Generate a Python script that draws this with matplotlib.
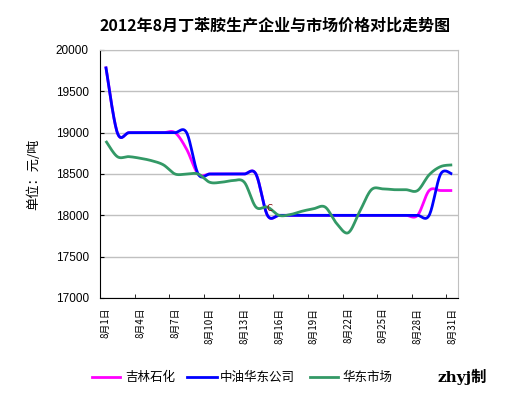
import matplotlib
matplotlib.use("Agg")
import matplotlib.pyplot as plt
from matplotlib.lines import Line2D
import numpy as np

plt.rcParams["font.family"] = ["Noto Sans CJK SC", "DejaVu Sans"]

days = list(range(1, 32))
jilin = [19800] + [19000] * 6 + [18800] + [18500] * 6 + [18000] * 14 + [18300] * 3
zhongyou = [19800] + [19000] * 7 + [18500] * 6 + [18000] * 15 + [18500] * 2
huadong = [18900, 18710, 18710, 18690, 18660, 18610, 18500, 18500, 18500, 18400,
           18400, 18420, 18400, 18100, 18100, 18000, 18010, 18050, 18080, 18100,
           17900, 17790, 18050, 18310, 18320, 18310, 18310, 18300, 18490, 18590,
           18610]

series_names = ["吉林石化", "中油华东公司", "华东市场"]
series_colors = ["#FF00FF", "#0000FF", "#339966"]
label_days = list(range(1, 32, 3))
tick_labels = [f"8月{d}日" for d in label_days]
title = "2012年8月丁苯胺生产企业与市场价格对比走势图"


def smooth(x, y, steps=20):
    """Excel-style smoothed line: cubic Bezier through each point."""
    x = np.asarray(x, float)
    y = np.asarray(y, float)
    n = len(x)
    px, py = [x[0]], [y[0]]
    for i in range(n - 1):
        i0, i3 = max(i - 1, 0), min(i + 2, n - 1)
        c1x = x[i] + (x[i + 1] - x[i0]) / 6
        c1y = y[i] + (y[i + 1] - y[i0]) / 6
        c2x = x[i + 1] - (x[i3] - x[i]) / 6
        c2y = y[i + 1] - (y[i3] - y[i]) / 6
        t = np.linspace(0, 1, steps)[1:]
        a, b, c, d = (1 - t) ** 3, 3 * (1 - t) ** 2 * t, 3 * (1 - t) * t ** 2, t ** 3
        px.extend(a * x[i] + b * c1x + c * c2x + d * x[i + 1])
        py.extend(a * y[i] + b * c1y + c * c2y + d * y[i + 1])
    return px, py


fig = plt.figure(figsize=(5.24, 3.95), dpi=100)
ax = fig.add_axes([100 / 524, 1 - 298 / 395, 358 / 524, 248 / 395])

for values, color in zip([jilin, zhongyou, huadong], series_colors):
    sx, sy = smooth(days, values)
    ax.plot(sx, sy, color=color, linewidth=2.0, solid_capstyle="butt")

ax.text(15.15, 18080, "C", fontsize=6, color="#800000", family="DejaVu Sans",
        ha="center", va="center")

ax.set_xlim(0.5, 31.5)
ax.set_ylim(17000, 20000)
ax.set_yticks(range(17000, 20001, 500))
ax.yaxis.grid(True, color="#c0c0c0", linewidth=1.0)
ax.set_axisbelow(True)
for lab in ax.get_yticklabels():
    lab.set_family("Liberation Sans")
ax.tick_params(axis="y", direction="in", length=3, labelsize=8.5, pad=8)

ax.set_xticks(label_days)
ax.set_xticklabels(tick_labels, rotation=90, fontsize=7)
ax.set_xticks(np.arange(0.5, 31, 3), minor=True)
ax.tick_params(axis="x", which="major", length=0, pad=7)
ax.tick_params(axis="x", which="minor", direction="in", length=3)

ax.spines["top"].set_color("#c0c0c0")
ax.spines["right"].set_color("#c0c0c0")
ax.spines["left"].set_color("black")
ax.spines["bottom"].set_color("black")

ax.set_ylabel("单位：元/吨", fontsize=9.5, labelpad=11)

fig.text(0.525, 0.934, title, ha="center", va="center", fontsize=11.5,
         fontweight="bold")

# legend along the bottom
legend_x = [(92, 120, 125), (187, 217, 220), (310, 338, 342)]
for (x0, x1, xt), name, color in zip(legend_x, series_names, series_colors):
    fig.add_artist(Line2D([x0 / 524, x1 / 524], [1 - 377 / 395] * 2,
                          color=color, linewidth=2.0))
    fig.text(xt / 524, 1 - 377 / 395, name, fontsize=9, va="center")

fig.text(438 / 524, 1 - 377 / 395, "zhyj制", fontsize=11, fontweight="bold",
         va="center", family=["DejaVu Serif", "Noto Sans CJK SC"])

fig.savefig("out.png", dpi=100)
